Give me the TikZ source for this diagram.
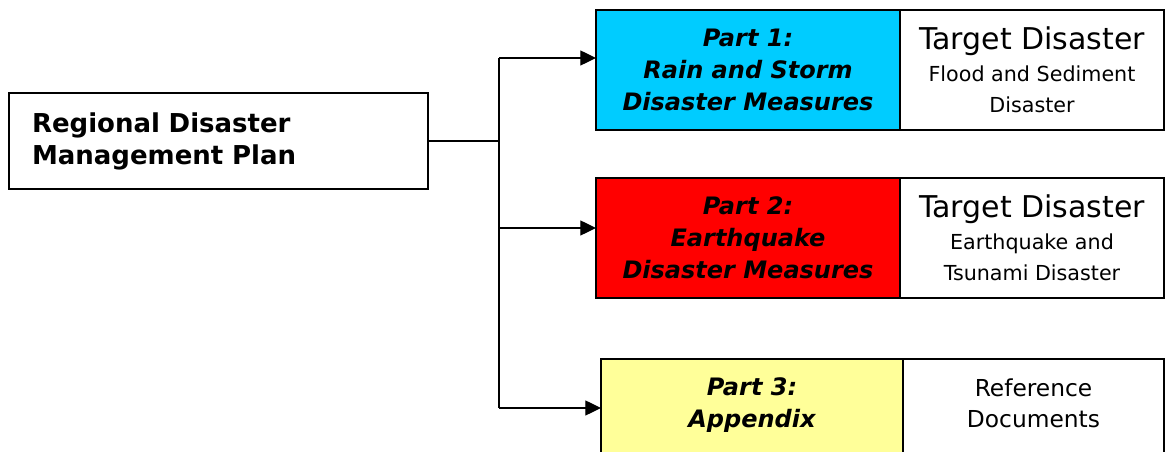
\documentclass[tikz,border=0pt]{standalone}
\usepackage{fontspec}
\setmainfont{DejaVu Sans}
\usetikzlibrary{arrows.meta,positioning}
\definecolor{rainblue}{HTML}{00CCFF}
\definecolor{quakered}{HTML}{FF0000}
\definecolor{appyellow}{HTML}{FFFF99}
\tikzset{box/.style = {shape=rectangle,draw,line width=1.3pt,outer sep=0pt,inner sep=0pt,align=center}}
\tikzset{partbox/.style = {box,minimum width=228pt,minimum height=90pt,font=\fontsize{18}{24}\selectfont\bfseries\itshape}}
\tikzset{targetbox/.style = {box,fill=white,minimum width=198pt,minimum height=90pt,font=\fontsize{15.5}{23.5}\selectfont}}
\tikzset{link/.style = {-{Triangle[length=11.8pt,width=11.3pt]},line width=1pt}}

\begin{document}
\begin{tikzpicture}[x=0.75pt,y=-0.75pt]
  \useasboundingbox (0,0) rectangle (1165,452);

  \node[box,minimum width=314.25pt,minimum height=72pt,text width=279.75pt,align=left,
    font=\fontsize{19.5}{24}\selectfont\bfseries] (plan) at (218.5,141) {Regional Disaster\\Management Plan};

  \node[partbox,fill=rainblue] (p1) at (748,70) {Part 1:\\Rain and Storm\\Disaster Measures};
  \node[partbox,fill=quakered] (p2) at (748,238) {Part 2:\\Earthquake\\Disaster Measures};
  \node[partbox,fill=appyellow,minimum width=226.5pt,text depth=24pt] (p3) at (752,419) {Part 3:\\Appendix};

  \node[targetbox,right=0pt of p1] (t1) {{\fontsize{22.5}{23.5}\selectfont Target Disaster}\\Flood and Sediment\\Disaster};
  \node[targetbox,right=0pt of p2] (t2) {{\fontsize{22.5}{23.5}\selectfont Target Disaster}\\Earthquake and\\Tsunami Disaster};
  \node[targetbox,right=0pt of p3,minimum width=195.75pt,text depth=24pt,
    font=\fontsize{17.5}{23.25}\selectfont] (t3) {Reference\\Documents};

  \coordinate (hub) at (499,141);
  \coordinate (b1) at (499,58);
  \coordinate (b2) at (499,228);
  \coordinate (b3) at (499,408);

  \draw[line width=1pt] (plan.east) -- (hub);
  \draw[line width=1pt] (b1) -- (b3);
  \draw[link] (b1) -- (b1 -| p1.west);
  \draw[link] (b2) -- (b2 -| p2.west);
  \draw[link] (b3) -- (b3 -| p3.west);
\end{tikzpicture}
\end{document}
